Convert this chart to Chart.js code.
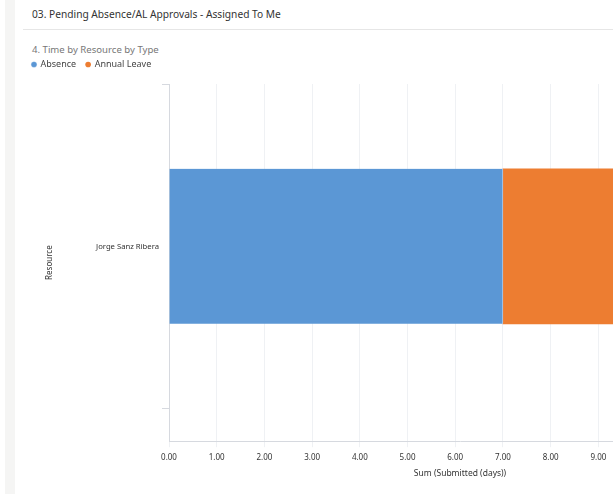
<!DOCTYPE html>
<html>
<head>
<meta charset="utf-8">
<script src="https://cdn.jsdelivr.net/npm/chart.js@4"></script>
<style>
  body { margin: 0; background: #fff; width: 613px; height: 494px; overflow: hidden; position: relative; font-family: "Noto Sans", sans-serif; }
  #strip { position: absolute; left: 5px; top: 0; width: 10px; height: 494px; background: #f5f5f4; }
  #header { position: absolute; left: 32px; top: 7px; font-size: 10.2px; color: #333; white-space: nowrap; }
  #rule { position: absolute; left: 23px; top: 29px; width: 600px; height: 1px; background: #e6e6e6; }
  #subtitle { position: absolute; left: 32px; top: 43px; font-size: 9.6px; color: #777; white-space: nowrap; }
  #wrap { position: absolute; left: 20px; top: 50px; width: 741px; height: 444px; }
</style>
</head>
<body>
<div id="strip"></div>
<div id="header">03. Pending Absence/AL Approvals - Assigned To Me</div>
<div id="rule"></div>
<div id="subtitle">4. Time by Resource by Type</div>
<div id="wrap"><canvas id="timeChart"></canvas></div>
<script>
const resources = ["Jorge Sanz Ribera"];
const absenceDays = [7];
const annualLeaveDays = [3]; // runs off the right edge, estimated
const xTicks = [0, 1, 2, 3, 4, 5, 6, 7, 8, 9, 10, 11, 12];

const axisColor = "#d6d9df";
const gridColor = "#eff1f4";

// one band per resource, centred on its index
const toPoints = (values) => values.map((v, i) => ({ x: v, y: i }));

// a bit more room under the legend
const legendGap = {
  id: "legendGap",
  beforeInit(chart) {
    const fit = chart.legend.fit;
    chart.legend.fit = function () {
      fit.call(this);
      this.height += 5;
    };
  },
};

new Chart(document.getElementById("timeChart"), {
  type: "bar",
  plugins: [legendGap],
  data: {
    datasets: [
      {
        label: "Absence",
        data: toPoints(absenceDays),
        backgroundColor: "#5b97d5",
        borderColor: "#b3cfee",
        borderWidth: { top: 0, bottom: 0, left: 0, right: 1 },
        borderSkipped: false,
      },
      {
        label: "Annual Leave",
        data: toPoints(annualLeaveDays),
        backgroundColor: "#ed7d31",
        borderWidth: 0,
      },
    ],
  },
  options: {
    indexAxis: "y",
    responsive: true,
    maintainAspectRatio: false,
    animation: false,
    barThickness: 155,
    layout: { padding: { left: 2, right: 10, top: 0, bottom: 15 } },
    plugins: {
      tooltip: { enabled: false },
      legend: {
        align: "start",
        labels: {
          usePointStyle: true,
          pointStyle: "circle",
          boxWidth: 4,
          boxHeight: 4,
          padding: 10,
          color: "#444",
          font: { family: "Noto Sans", size: 9 },
        },
      },
    },
    scales: {
      x: {
        stacked: true,
        min: 0,
        max: 12.2,
        afterBuildTicks: (s) => { s.ticks = xTicks.map((v) => ({ value: v })); },
        ticks: {
          color: "#333",
          padding: 6,
          maxRotation: 0,
          font: { family: "Noto Sans", size: 8 },
          callback: (v) => Number(v).toFixed(2),
        },
        grid: { color: gridColor, tickColor: gridColor, tickLength: 6 },
        border: { color: axisColor },
        title: {
          display: true,
          text: "Sum (Submitted (days))",
          color: "#333",
          font: { family: "Noto Sans", size: 8.5 },
          padding: { top: 0, bottom: 0 },
        },
      },
      y: {
        type: "linear",
        stacked: true,
        offset: false,
        min: -0.6,
        max: 0.5,
        afterBuildTicks: (s) => { s.ticks = [{ value: -0.5 }, { value: 0 }, { value: 0.5 }]; },
        afterFit: (s) => { s.width = 147; },
        ticks: {
          color: "#333",
          padding: 3,
          font: { family: "Noto Sans", size: 7.7 },
          callback: (v) => (v === 0 ? resources[0] : ""),
        },
        grid: {
          offset: false,
          drawOnChartArea: false,
          tickLength: 7,
          tickColor: (ctx) => (ctx.tick && ctx.tick.value === 0 ? "rgba(0,0,0,0)" : axisColor),
        },
        border: { color: axisColor },
        title: {
          display: true,
          text: "Resource",
          color: "#333",
          font: { family: "Noto Sans", size: 8 },
          padding: { top: 23, bottom: 0 },
        },
      },
    },
  },
});
</script>
</body>
</html>
